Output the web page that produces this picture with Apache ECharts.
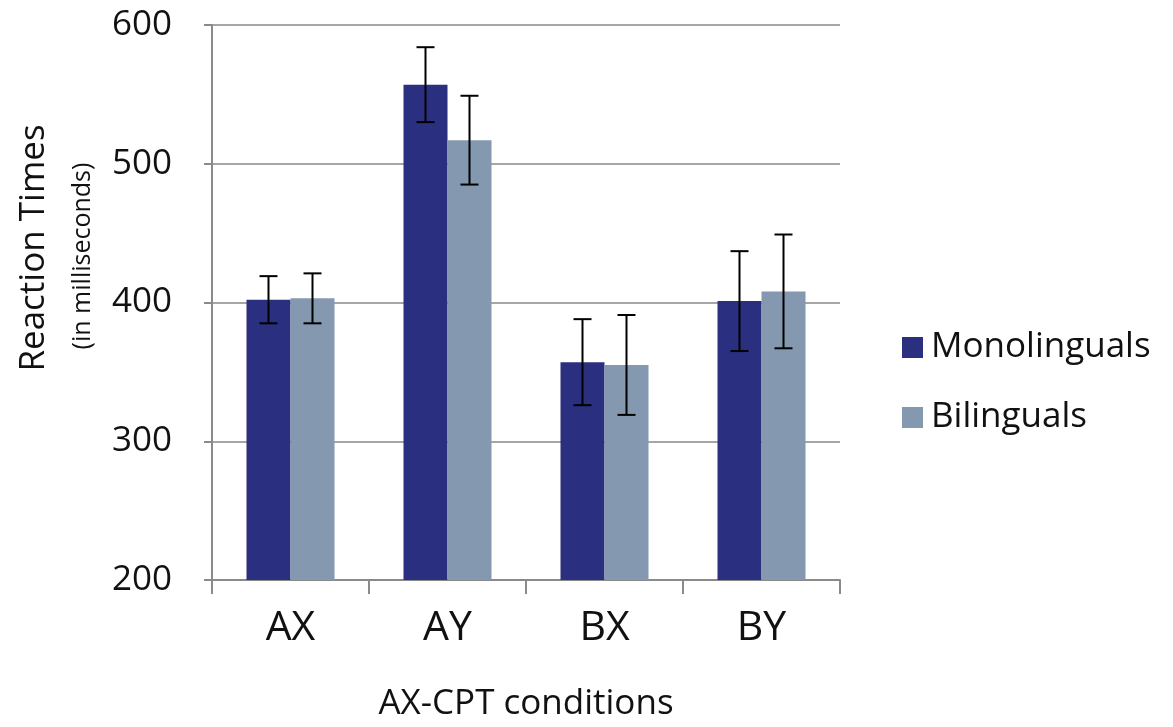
<!DOCTYPE html>
<html><head><meta charset="utf-8">
<script src="https://cdn.jsdelivr.net/npm/echarts@6/dist/echarts.min.js"></script>
<style>html,body{margin:0;padding:0;background:#fff}#c{width:1173px;height:727px}</style>
</head><body><div id="c"></div>
<script>
const categories = ['AX', 'AY', 'BX', 'BY'];
const monoValues = [402, 557, 357, 401];
const monoErrors = [17, 27, 31, 36];
const biliValues = [403, 517, 355, 408];
const biliErrors = [18, 32, 36, 41];
const yTicks = [200, 300, 400, 500, 600];
const FONT = '"Open Sans", "Noto Sans", sans-serif';

const errData = [];
categories.forEach((c, i) => {
  errData.push([i, monoValues[i] - monoErrors[i], monoValues[i] + monoErrors[i], -1]);
  errData.push([i, biliValues[i] - biliErrors[i], biliValues[i] + biliErrors[i], 1]);
});

const chart = echarts.init(document.getElementById('c'));
chart.setOption({
  animation: false,
  backgroundColor: '#fff',
  grid: { left: 212, right: 333, top: 25, bottom: 145 },
  legend: {
    orient: 'vertical', left: 897, top: 325, itemWidth: 21, itemHeight: 21, itemGap: 35,
    icon: 'rect',
    textStyle: { fontFamily: FONT, fontSize: 35, color: '#111', padding: [0, 0, 0, 3] },
    data: ['Monolinguals', 'Bilinguals']
  },
  xAxis: {
    type: 'category', data: categories,
    axisLine: { lineStyle: { color: '#8a8a8a', width: 2 } },
    axisTick: { show: true, length: 14, lineStyle: { color: '#8a8a8a', width: 2 } },
    axisLabel: { fontFamily: FONT, fontSize: 41, color: '#111', margin: 28 },
    name: 'AX-CPT conditions', nameLocation: 'middle', nameGap: 107,
    nameTextStyle: { fontFamily: FONT, fontSize: 35, color: '#111' }
  },
  yAxis: {
    type: 'value', min: 200, max: 600, interval: 100,
    axisLine: { show: true, lineStyle: { color: '#8a8a8a', width: 2 } },
    axisTick: { show: true, length: 8, lineStyle: { color: '#8a8a8a', width: 2 } },
    splitLine: { lineStyle: { color: '#a6a6a6', width: 2 } },
    axisLabel: { fontFamily: FONT, fontSize: 35, color: '#111', margin: 40,
      formatter: v => yTicks.includes(v) ? String(v) : '' }
  },
  graphic: [
    { type: 'text', x: 34, y: 248, rotation: Math.PI / 2,
      style: { text: 'Reaction Times', font: '35px ' + FONT, fill: '#111', textAlign: 'center', textVerticalAlign: 'middle' } },
    { type: 'text', x: 83, y: 256, rotation: Math.PI / 2,
      style: { text: '(in milliseconds)', font: '25px ' + FONT, fill: '#111', textAlign: 'center', textVerticalAlign: 'middle' } }
  ],
  series: [
    { name: 'Monolinguals', type: 'bar', data: monoValues, barWidth: 44, barGap: '0%',
      itemStyle: { color: '#2b2f7f' } },
    { name: 'Bilinguals', type: 'bar', data: biliValues, barWidth: 44,
      itemStyle: { color: '#8498b0' } },
    { type: 'custom', data: errData, z: 10, silent: true,
      renderItem: function (params, api) {
        const i = api.value(0), lo = api.value(1), hi = api.value(2), side = api.value(3);
        const pLo = api.coord([i, lo]), pHi = api.coord([i, hi]);
        const x = pLo[0] + side * 22;
        const cap = 9;
        const st = { stroke: '#000', lineWidth: 2 };
        return { type: 'group', children: [
          { type: 'line', shape: { x1: x, y1: pHi[1], x2: x, y2: pLo[1] }, style: st },
          { type: 'line', shape: { x1: x - cap, y1: pHi[1], x2: x + cap, y2: pHi[1] }, style: st },
          { type: 'line', shape: { x1: x - cap, y1: pLo[1], x2: x + cap, y2: pLo[1] }, style: st }
        ] };
      }
    }
  ]
});
</script></body></html>
